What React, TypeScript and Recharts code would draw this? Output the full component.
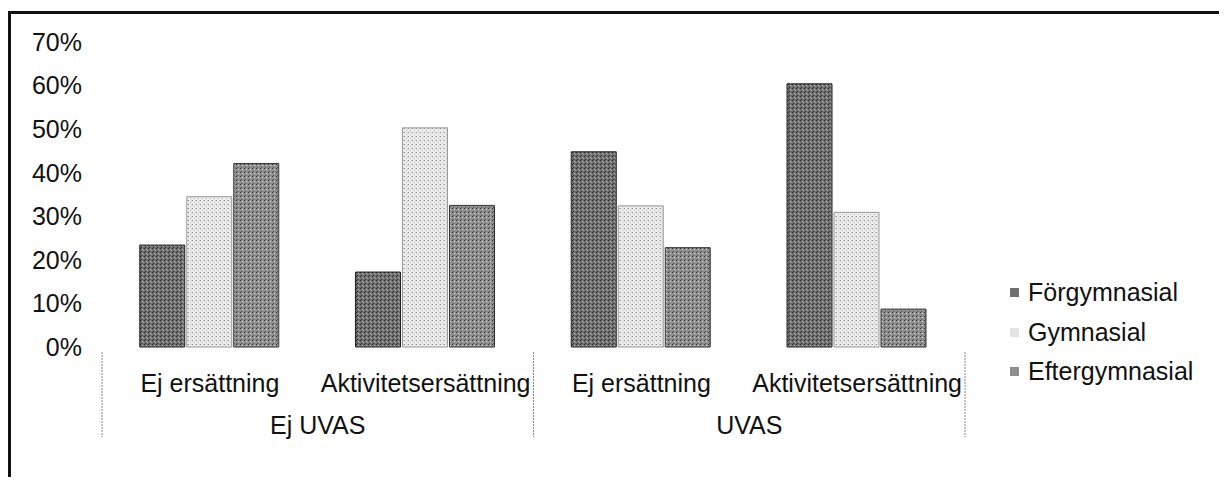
import { Bar, BarChart, XAxis, YAxis } from "recharts"

const grupper = ["Ej UVAS", "Ej UVAS", "UVAS", "UVAS"]
const kategorier = ["Ej ersättning", "Aktivitetsersättning", "Ej ersättning", "Aktivitetsersättning"]
const forgymnasial = [23.4, 17.2, 44.8, 60.4]
const gymnasial = [34.5, 50.3, 32.4, 30.9]
const eftergymnasial = [42.1, 32.5, 22.8, 8.7]
const yTicks = [0, 10, 20, 30, 40, 50, 60, 70]

const serier = [
  { key: "forg", namn: "Förgymnasial", fill: "url(#pat-forg)", stroke: "#222", ikon: "#707070" },
  { key: "gymn", namn: "Gymnasial", fill: "url(#pat-gymn)", stroke: "#999", ikon: "#e4e4e4" },
  { key: "efterg", namn: "Eftergymnasial", fill: "url(#pat-efterg)", stroke: "#333", ikon: "#8e8e8e" },
]

const data = kategorier.map((k, i) => ({
  sub: k,
  grupp: grupper[i],
  forg: forgymnasial[i],
  gymn: gymnasial[i],
  efterg: eftergymnasial[i],
}))

const FONT = "'Liberation Sans', Arial, sans-serif"

// Två nivåer på x-axeln: underkategori + grupp med streckade avdelare
function XTick(props: any) {
  const { x, y, payload, index } = props
  const half = payload?.offset ?? 0
  const rad = data[index]
  const forst = index === 0 || data[index - 1].grupp !== rad.grupp
  const sist = index === data.length - 1
  const antal = data.filter((d) => d.grupp === rad.grupp).length
  const vanster = x - half
  return (
    <g>
      <text x={x} y={y + 45} textAnchor="middle" fontSize={25} fill="#111" fontFamily={FONT}>
        {rad.sub}
      </text>
      {forst && (
        <>
          <line x1={vanster} x2={vanster} y1={y + 5} y2={y + 90} stroke="#888" strokeDasharray="2 1" />
          <text x={vanster + antal * half} y={y + 87} textAnchor="middle" fontSize={25} fill="#111" fontFamily={FONT}>
            {rad.grupp}
          </text>
        </>
      )}
      {sist && (
        <line x1={x + half} x2={x + half} y1={y + 5} y2={y + 90} stroke="#888" strokeDasharray="2 1" />
      )}
    </g>
  )
}

export default function App() {
  return (
    <div style={{ position: "relative", width: 1219, height: 469, fontFamily: FONT }}>
      <div
        style={{
          position: "absolute",
          left: 0,
          top: 3,
          width: 1219,
          height: 466,
          borderLeft: "3px solid #111",
          borderTop: "3px solid #111",
          boxSizing: "border-box",
        }}
      />
      <div style={{ position: "absolute", left: 0, top: 0 }}>
        <BarChart
          width={1219}
          height={469}
          data={data}
          margin={{ top: 34, right: 262, left: 0, bottom: 30 }}
          barCategoryGap="17.5%"
          barGap={2}
        >
          <defs>
            <pattern id="pat-forg" width="4" height="4" patternUnits="userSpaceOnUse">
              <rect width="4" height="4" fill="#707070" />
              <rect x="0" y="0" width="1" height="1" fill="#222" />
              <rect x="2" y="1" width="1" height="1" fill="#bbb" />
              <rect x="1" y="3" width="1" height="1" fill="#333" />
              <rect x="3" y="2" width="1" height="1" fill="#999" />
            </pattern>
            <pattern id="pat-gymn" width="4" height="4" patternUnits="userSpaceOnUse">
              <rect width="4" height="4" fill="#ececec" />
              <rect x="0" y="0" width="1" height="1" fill="#888" />
              <rect x="2" y="2" width="1" height="1" fill="#bbb" />
              <rect x="3" y="0" width="1" height="1" fill="#ccc" />
            </pattern>
            <pattern id="pat-efterg" width="4" height="4" patternUnits="userSpaceOnUse">
              <rect width="4" height="4" fill="#8e8e8e" />
              <rect x="0" y="0" width="1" height="1" fill="#333" />
              <rect x="2" y="1" width="1" height="1" fill="#ddd" />
              <rect x="1" y="3" width="1" height="1" fill="#555" />
            </pattern>
          </defs>
          <XAxis
            dataKey="sub"
            axisLine={false}
            tickLine={false}
            tickSize={0}
            tickMargin={0}
            height={100}
            interval={0}
            tick={<XTick />}
          />
          <YAxis
            domain={[0, 70]}
            ticks={yTicks}
            axisLine={false}
            tickLine={false}
            tickSize={0}
            tickMargin={20}
            width={94}
            interval={0}
            tickFormatter={(v: number) => `${v}%`}
            tick={{ fill: "#111", fontSize: 25, fontFamily: FONT }}
          />
          {serier.map((s) => (
            <Bar
              key={s.key}
              dataKey={s.key}
              name={s.namn}
              fill={s.fill}
              stroke={s.stroke}
              strokeWidth={1}
              isAnimationActive={false}
            />
          ))}
        </BarChart>
      </div>
      <div style={{ position: "absolute", left: 1002, top: 265, fontSize: 25, color: "#111" }}>
        {serier.map((s) => (
          <div key={s.key} style={{ display: "flex", alignItems: "center", height: 39.5 }}>
            <svg width={9} height={9} style={{ marginRight: 9 }}>
              <rect width={9} height={9} fill={s.ikon} />
            </svg>
            <span>{s.namn}</span>
          </div>
        ))}
      </div>
    </div>
  )
}
